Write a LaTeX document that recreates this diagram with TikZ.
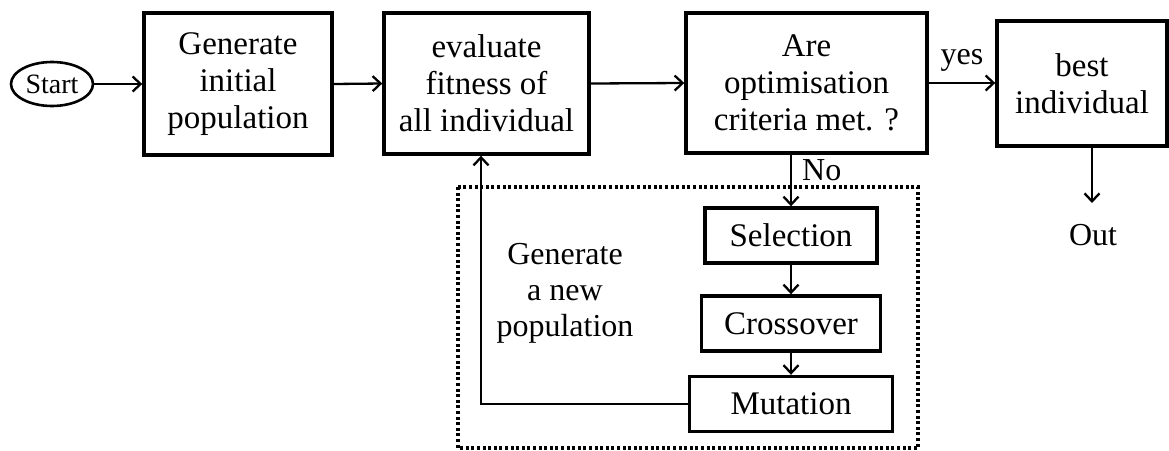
\documentclass[tikz,border=0pt]{standalone}
\usepackage{fontspec}
\setmainfont{Liberation Serif}
\usetikzlibrary{shapes.geometric,arrows.meta}
\begin{document}
\begin{tikzpicture}[x=1pt,y=-1pt,
  every node/.style={font=\fontsize{33}{37}\selectfont, inner sep=0pt, align=center},
  block/.style={draw, line width=3.4pt, rectangle},
  opbox/.style={draw, line width=3.4pt, rectangle, minimum height=55pt},
  startnode/.style={draw, line width=2.6pt, ellipse, minimum width=82pt, minimum height=44pt, font=\fontsize{28}{30}\selectfont},
  flow/.style={line width=2.3pt, -{Straight Barb[length=8pt,width=15pt,line width=2.3pt]}},
  group/.style={line width=3.2pt, dash pattern=on 3pt off 2.6pt},
  lbl/.style={font=\fontsize{32}{36}\selectfont}]
\useasboundingbox (0,0) rectangle (1169,450);

% main chain
\node[startnode] (start) at (52,84) {Start};
\node[block, minimum width=188pt, minimum height=142pt] (init) at (238,84) {Generate\\initial\\population};
\node[block, minimum width=205pt, minimum height=141pt] (eval) at (486.5,83.5) {evaluate\\fitness of\\all individual};
\node[block, minimum width=241pt, minimum height=140pt] (crit) at (806.5,83) {Are\\optimisation\\criteria met. ?};
\node[block, minimum width=170pt, minimum height=125pt] (best) at (1082,83.5) {best\\individual};
\node[lbl] (out) at (1093,235) {Out};

% genetic operators
\draw[group] (458,187) rectangle (918,448);
\node[opbox, minimum width=172pt] (sel) at (791,235.5) {Selection};
\node[opbox, minimum width=179pt] (cross) at (791,323.5) {Crossover};
\node[opbox, minimum width=203pt] (mut) at (791,404) {Mutation};
\node[lbl] (gen) at (565,293) {Generate\\a new\\population};

% connectors
\draw[flow] (start.east) -- (init.west |- start.east);
\draw[flow] (init.east) -- (eval.west);
\draw[flow] (eval.east) -- (crit.west);
\draw[flow] (crit.east) -- node[lbl, above=10pt] (yes) {yes} (best.west |- crit.east);
\coordinate (outtip) at (1092,203);
\draw[flow] (best.south -| outtip) -- (outtip);
\draw[flow] (crit.south -| sel.north) -- node[lbl, pos=0.3, right=10pt] (no) {No} (sel.north);
\draw[flow] (sel.south) -- (cross.north);
\draw[flow] (cross.south) -- (mut.north);
\coordinate (corner) at (481,404);
\draw[flow] (mut.west) -- (corner) -- (corner |- eval.south);
\end{tikzpicture}
\end{document}
